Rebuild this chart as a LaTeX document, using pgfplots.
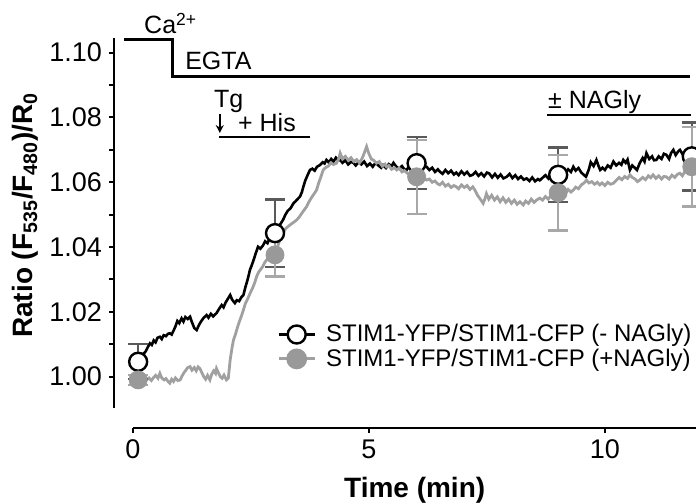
\documentclass[border=0pt]{standalone}
\usepackage{fontspec}
\setmainfont{Liberation Sans}
\usepackage{pgfplots}
\pgfplotsset{compat=1.18}
\usetikzlibrary{arrows.meta}
\definecolor{tracegray}{HTML}{A0A0A0}
\definecolor{markgray}{HTML}{999999}
\definecolor{errdark}{HTML}{5A5A5A}
\definecolor{errlight}{HTML}{A8A8A8}

% traces: time (min), ratio
\pgfplotstableread{
t r
0.11 1.0046
0.17 1.0062
0.22 1.0070
0.27 1.0078
0.31 1.0090
0.36 1.0103
0.40 1.0098
0.44 1.0112
0.48 1.0106
0.52 1.0120
0.57 1.0123
0.61 1.0116
0.65 1.0128
0.70 1.0125
0.74 1.0132
0.78 1.0134
0.82 1.0130
0.86 1.0142
0.90 1.0155
0.94 1.0172
0.98 1.0165
1.03 1.0180
1.07 1.0170
1.11 1.0184
1.16 1.0178
1.21 1.0185
1.25 1.0168
1.30 1.0150
1.35 1.0144
1.40 1.0160
1.45 1.0172
1.50 1.0182
1.56 1.0190
1.60 1.0182
1.65 1.0194
1.70 1.0186
1.74 1.0192
1.77 1.0196
1.82 1.0208
1.88 1.0221
1.92 1.0214
1.96 1.0228
2.01 1.0240
2.06 1.0252
2.10 1.0238
2.16 1.0227
2.20 1.0236
2.25 1.0233
2.30 1.0246
2.34 1.0252
2.38 1.0275
2.43 1.0300
2.48 1.0330
2.52 1.0345
2.56 1.0362
2.60 1.0380
2.65 1.0401
2.70 1.0395
2.76 1.0406
2.80 1.0418
2.85 1.0412
2.90 1.0428
2.95 1.0435
3.01 1.0443
3.06 1.0458
3.12 1.0470
3.18 1.0484
3.23 1.0500
3.28 1.0512
3.34 1.0520
3.40 1.0535
3.45 1.0542
3.50 1.0550
3.54 1.0556
3.58 1.0570
3.61 1.0586
3.65 1.0605
3.70 1.0622
3.75 1.0638
3.80 1.0642
3.85 1.0636
3.90 1.0648
3.96 1.0653
4.02 1.0662
4.06 1.0658
4.10 1.0669
4.15 1.0661
4.20 1.0672
4.25 1.0664
4.30 1.0676
4.35 1.0668
4.39 1.0669
4.44 1.0660
4.50 1.0668
4.56 1.0655
4.62 1.0663
4.67 1.0660
4.72 1.0652
4.78 1.0662
4.84 1.0655
4.90 1.0664
4.96 1.0650
5.02 1.0658
5.08 1.0648
5.14 1.0660
5.20 1.0652
5.26 1.0645
5.30 1.0653
5.36 1.0644
5.42 1.0656
5.48 1.0650
5.52 1.0660
5.58 1.0648
5.64 1.0642
5.70 1.0650
5.75 1.0640
5.80 1.0638
5.86 1.0652
5.92 1.0660
5.98 1.0662
6.04 1.0655
6.10 1.0660
6.16 1.0648
6.22 1.0648
6.28 1.0638
6.34 1.0645
6.40 1.0632
6.46 1.0640
6.50 1.0633
6.56 1.0626
6.62 1.0638
6.68 1.0628
6.74 1.0636
6.80 1.0624
6.85 1.0630
6.90 1.0622
6.96 1.0634
7.02 1.0624
7.08 1.0632
7.14 1.0620
7.20 1.0623
7.26 1.0632
7.32 1.0620
7.38 1.0628
7.44 1.0618
7.50 1.0630
7.55 1.0627
7.61 1.0615
7.67 1.0626
7.73 1.0614
7.79 1.0624
7.85 1.0612
7.92 1.0617
7.98 1.0626
8.04 1.0613
8.10 1.0622
8.16 1.0610
8.22 1.0618
8.28 1.0608
8.34 1.0612
8.40 1.0604
8.46 1.0615
8.52 1.0603
8.58 1.0610
8.62 1.0606
8.68 1.0614
8.74 1.0622
8.80 1.0612
8.86 1.0628
8.92 1.0618
8.98 1.0625
9.04 1.0620
9.10 1.0636
9.16 1.0628
9.22 1.0640
9.28 1.0632
9.33 1.0648
9.38 1.0636
9.44 1.0644
9.50 1.0630
9.56 1.0622
9.60 1.0617
9.66 1.0640
9.70 1.0662
9.76 1.0650
9.82 1.0669
9.86 1.0652
9.90 1.0638
9.95 1.0645
10.00 1.0638
10.06 1.0652
10.12 1.0645
10.18 1.0664
10.24 1.0652
10.30 1.0660
10.35 1.0654
10.39 1.0669
10.44 1.0660
10.48 1.0670
10.53 1.0638
10.58 1.0652
10.63 1.0645
10.68 1.0638
10.74 1.0660
10.80 1.0675
10.84 1.0664
10.88 1.0690
10.94 1.0672
11.00 1.0680
11.04 1.0668
11.09 1.0669
11.14 1.0680
11.20 1.0672
11.25 1.0688
11.30 1.0685
11.36 1.0672
11.40 1.0690
11.45 1.0700
11.50 1.0684
11.55 1.0695
11.59 1.0700
11.64 1.0688
11.70 1.0695
11.74 1.0685
11.80 1.0692
11.87 1.0680
11.93 1.0694
}\minusnagly

\pgfplotstableread{
t r
0.11 0.9990
0.16 0.9995
0.21 0.9992
0.25 0.9998
0.29 0.9990
0.34 0.9996
0.39 0.9988
0.44 0.9998
0.48 1.0004
0.53 0.9995
0.57 1.0010
0.61 0.9996
0.66 0.9990
0.70 0.9994
0.74 0.9986
0.78 0.9980
0.82 0.9992
0.86 0.9985
0.90 0.9996
0.95 0.9988
1.00 0.9990
1.04 1.0002
1.08 1.0012
1.12 1.0020
1.16 1.0028
1.21 1.0031
1.25 1.0020
1.30 1.0028
1.34 1.0018
1.38 1.0030
1.42 1.0025
1.46 1.0012
1.50 1.0000
1.54 0.9992
1.58 1.0004
1.63 0.9990
1.67 1.0008
1.71 1.0018
1.75 1.0010
1.77 1.0025
1.81 1.0012
1.85 1.0000
1.89 0.9995
1.93 1.0005
1.98 0.9990
2.02 0.9995
2.06 1.0052
2.10 1.0090
2.13 1.0113
2.17 1.0130
2.21 1.0150
2.25 1.0168
2.30 1.0188
2.34 1.0206
2.38 1.0225
2.43 1.0240
2.48 1.0257
2.53 1.0272
2.58 1.0290
2.62 1.0309
2.66 1.0322
2.70 1.0330
2.75 1.0340
2.79 1.0352
2.83 1.0360
2.88 1.0366
2.94 1.0370
3.01 1.0376
3.06 1.0400
3.12 1.0425
3.18 1.0443
3.24 1.0458
3.30 1.0465
3.36 1.0472
3.42 1.0478
3.47 1.0484
3.52 1.0492
3.58 1.0505
3.63 1.0515
3.68 1.0525
3.73 1.0540
3.78 1.0552
3.84 1.0565
3.89 1.0576
3.94 1.0600
3.99 1.0620
4.03 1.0638
4.08 1.0645
4.14 1.0650
4.19 1.0660
4.25 1.0655
4.31 1.0659
4.36 1.0672
4.39 1.0690
4.44 1.0672
4.50 1.0680
4.56 1.0668
4.62 1.0676
4.68 1.0664
4.74 1.0670
4.80 1.0660
4.86 1.0675
4.90 1.0690
4.95 1.0710
5.00 1.0688
5.05 1.0672
5.10 1.0668
5.16 1.0659
5.22 1.0664
5.28 1.0650
5.34 1.0656
5.37 1.0648
5.42 1.0652
5.48 1.0640
5.54 1.0645
5.59 1.0638
5.64 1.0644
5.70 1.0632
5.75 1.0636
5.80 1.0630
5.86 1.0622
5.92 1.0625
5.98 1.0617
6.04 1.0622
6.10 1.0612
6.16 1.0615
6.22 1.0607
6.28 1.0610
6.34 1.0600
6.40 1.0604
6.46 1.0595
6.50 1.0592
6.56 1.0600
6.62 1.0588
6.68 1.0594
6.74 1.0584
6.80 1.0590
6.85 1.0586
6.90 1.0580
6.96 1.0592
7.02 1.0584
7.08 1.0590
7.14 1.0578
7.20 1.0586
7.25 1.0575
7.30 1.0560
7.36 1.0548
7.42 1.0535
7.46 1.0550
7.49 1.0565
7.54 1.0548
7.60 1.0560
7.66 1.0545
7.72 1.0555
7.78 1.0540
7.84 1.0552
7.90 1.0538
7.96 1.0548
8.02 1.0535
8.08 1.0545
8.14 1.0532
8.20 1.0540
8.27 1.0530
8.32 1.0542
8.38 1.0535
8.44 1.0548
8.50 1.0538
8.56 1.0546
8.62 1.0551
8.68 1.0545
8.74 1.0556
8.80 1.0548
8.86 1.0560
8.92 1.0552
8.98 1.0566
9.04 1.0560
9.10 1.0572
9.16 1.0565
9.22 1.0578
9.28 1.0570
9.33 1.0576
9.38 1.0585
9.44 1.0580
9.50 1.0592
9.56 1.0598
9.61 1.0607
9.66 1.0598
9.72 1.0602
9.78 1.0594
9.84 1.0600
9.89 1.0592
9.94 1.0598
10.00 1.0590
10.06 1.0600
10.12 1.0594
10.18 1.0597
10.24 1.0606
10.30 1.0615
10.36 1.0608
10.42 1.0618
10.48 1.0612
10.53 1.0623
10.58 1.0615
10.64 1.0610
10.69 1.0602
10.74 1.0607
10.80 1.0615
10.86 1.0608
10.92 1.0620
10.97 1.0614
11.02 1.0623
11.08 1.0612
11.14 1.0620
11.20 1.0610
11.25 1.0618
11.30 1.0617
11.36 1.0610
11.42 1.0622
11.48 1.0615
11.54 1.0625
11.59 1.0628
11.64 1.0620
11.70 1.0635
11.76 1.0640
11.80 1.0645
11.86 1.0652
11.93 1.0665
}\plusnagly

% means with error at sampled times
\pgfplotstableread{
t r e
0.11 1.0046 0.0054
3.01 1.0443 0.0104
6.01 1.0659 0.0080
9.01 1.0623 0.0084
11.84 1.0680 0.0105
}\minusmarks

\pgfplotstableread{
t r e
0.11 0.9990 0.0015
3.01 1.0376 0.0067
6.01 1.0617 0.0114
9.01 1.0568 0.0117
11.84 1.0648 0.0123
}\plusmarks

\begin{document}
\begin{tikzpicture}
\begin{axis}[
  scale only axis,
  width=291pt, height=195pt,
  xmin=-0.4, xmax=11.93,
  ymin=0.98417, ymax=1.10454,
  clip=false,
  axis lines*=left,
  axis line style={draw=none},
  tick align=outside,
  major tick length=2.5pt, minor tick length=2.5pt,
  every tick/.style={black, line width=1pt},
  xtick={0,5,10},
  ytick={1,1.02,1.04,1.06,1.08,1.1},
  minor ytick={1.01,1.03,1.05,1.07,1.09},
  tick label style={font=\fontsize{13.5}{15}\selectfont},
  /pgf/number format/assume math mode=true,
  yticklabel style={/pgf/number format/.cd, fixed, fixed zerofill, precision=2},
  xlabel={Time (min)},
  ylabel={Ratio (F\textsubscript{535}/F\textsubscript{480})/R\textsubscript{0}},
  label style={font=\fontsize{14}{16}\selectfont\bfseries},
  xlabel style={at={(axis description cs:0.5166,0)}, anchor=base, yshift=-35pt},
  ylabel style={at={(axis description cs:-0.152,0.546)}, anchor=center},
  legend style={draw=none, fill=none, inner sep=0pt,
                at={(axis cs:3.05,1.00925)}, anchor=west,
                font=\fontsize{12}{14}\selectfont,
                nodes={inner sep=1pt}, column sep=4pt, row sep=0pt},
  legend cell align=left,
  legend image code/.code={
    \draw[#1] (0pt,0pt) -- (18pt,0pt);
    \draw[#1] plot coordinates {(9pt,0pt)};
  },
]
% hand-drawn axis lines (offset style)
\draw[line width=1pt] (axis cs:-0.4,0.9903) -- (axis cs:-0.4,1.10454);
\draw[line width=1pt] (axis cs:0,0.98417) -- (axis cs:11.93,0.98417);

\addplot[forget plot, black, line width=1.3pt] table[x=t, y=r] {\minusnagly};
\addplot[forget plot, tracegray, line width=1.4pt] table[x=t, y=r] {\plusnagly};

\addplot[forget plot, only marks, mark=*, mark size=4.5pt,
  mark options={draw=black, fill=white, line width=1.2pt},
  error bars/.cd, y dir=both, y explicit,
  error bar style={line width=1pt, solid, draw=errdark},
  error mark options={rotate=90, draw=errdark, line width=1.2pt, mark size=5pt}]
  table[x=t, y=r, y error=e] {\minusmarks};
\addplot[forget plot, only marks, mark=*, mark size=4.5pt,
  mark options={draw=markgray, fill=markgray},
  error bars/.cd, y dir=both, y explicit,
  error bar style={line width=1pt, solid, draw=errlight},
  error mark options={rotate=90, draw=errlight, line width=1.2pt, mark size=5pt}]
  table[x=t, y=r, y error=e] {\plusmarks};

\addlegendimage{black, line width=1.3pt, mark=*, mark size=4.5pt,
  mark options={draw=black, fill=white, line width=1.2pt}}
\addlegendentry{STIM1-YFP/STIM1-CFP (- NAGly)}
\addlegendimage{tracegray, line width=1.4pt, mark=*, mark size=4.5pt,
  mark options={draw=markgray, fill=markgray}}
\addlegendentry{STIM1-YFP/STIM1-CFP (+NAGly)}

% protocol bars
\draw[line width=1.5pt] (axis cs:-0.19,1.1040) -| (axis cs:0.845,1.0927) -- (axis cs:11.81,1.0927);
\node[anchor=base west, inner sep=0pt, font=\fontsize{12.5}{14}\selectfont] at (axis cs:0.23,1.1058) {Ca\textsuperscript{2+}};
\node[anchor=base west, inner sep=0pt, font=\fontsize{12.5}{14}\selectfont] at (axis cs:1.10,1.0947) {EGTA};
\node[anchor=base west, inner sep=0pt, font=\fontsize{12.5}{14}\selectfont] at (axis cs:1.71,1.0832) {Tg};
\draw[line width=1pt, -{Stealth[length=4pt,width=4pt]}] (axis cs:1.84,1.0810) -- (axis cs:1.84,1.0752);
\node[anchor=base west, inner sep=0pt, font=\fontsize{12.5}{14}\selectfont] at (axis cs:2.22,1.0758) {+ His};
\draw[line width=1pt] (axis cs:1.83,1.0739) -- (axis cs:3.75,1.0739);
\node[anchor=base west, inner sep=0pt, font=\fontsize{12.5}{14}\selectfont] at (axis cs:8.79,1.0829) {± NAGly};
\draw[line width=1.2pt] (axis cs:8.77,1.0808) -- (axis cs:11.83,1.0808);

\coordinate (bl) at (rel axis cs:0,0);
\coordinate (tr) at (rel axis cs:1,1);
\end{axis}
\pgfresetboundingbox
\path[use as bounding box] ([shift={(-57.05pt,-38pt)}]bl) rectangle ([shift={(0pt,19pt)}]tr);
\end{tikzpicture}
\end{document}
